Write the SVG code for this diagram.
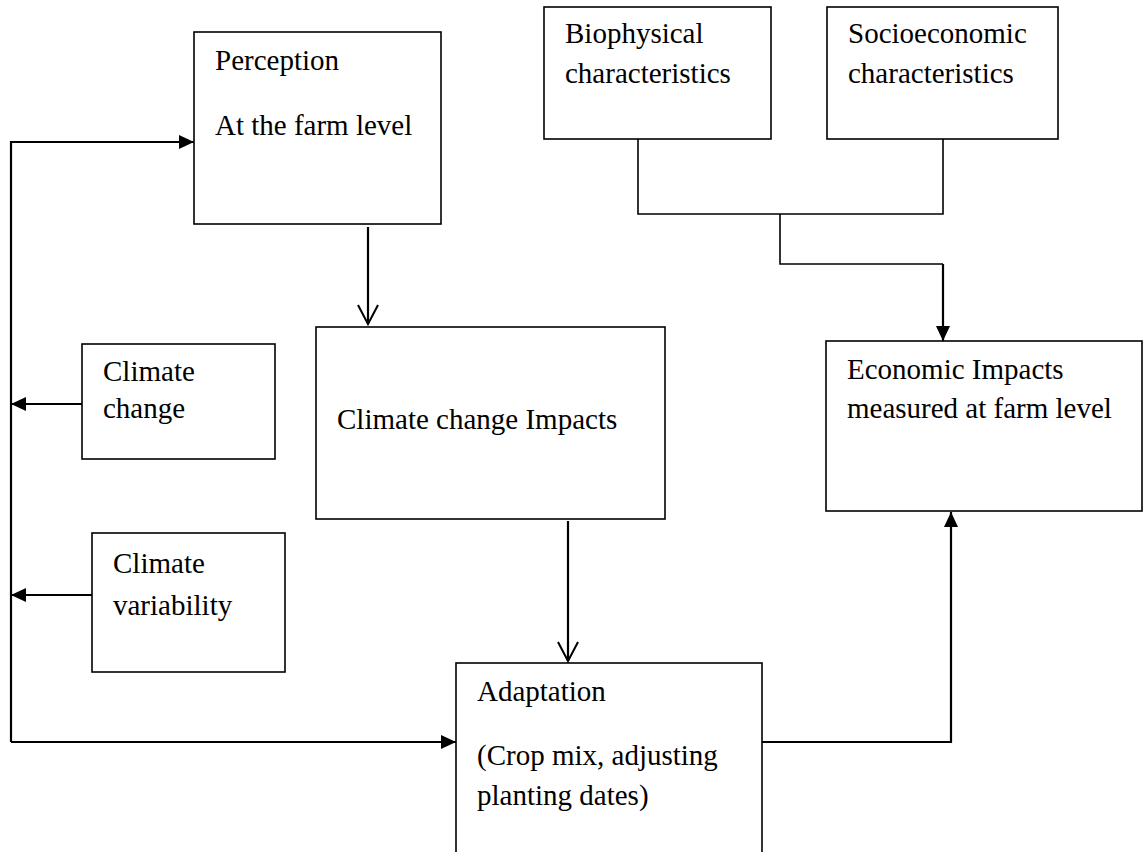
<svg xmlns="http://www.w3.org/2000/svg" width="1143" height="852" viewBox="0 0 1143 852">
<defs>
<style>
.box{fill:#fff;stroke:#000;stroke-width:1.6}
.t{font-family:"Liberation Serif","Times New Roman",serif;font-size:29px;fill:#000}
.c{fill:none;stroke:#000;stroke-width:2.2}
.thin{fill:none;stroke:#000;stroke-width:1.6}
</style>
<marker id="fa" markerUnits="userSpaceOnUse" markerWidth="16" markerHeight="14" refX="15" refY="7" orient="auto">
<path d="M0,0 L15,7 L0,14 Z" fill="#000"/>
</marker>
<marker id="va" markerUnits="userSpaceOnUse" markerWidth="24" markerHeight="24" refX="20" refY="12" orient="auto">
<path d="M1,2 L20,12 L1,22" fill="none" stroke="#000" stroke-width="2"/>
</marker>
</defs>
<rect width="1143" height="852" fill="#fff"/>
<g id="perception">
<rect class="box" x="194" y="32" width="247" height="192"/>
<text class="t" x="215" y="70">Perception</text>
<text class="t" x="215" y="135">At the farm level</text>
</g>
<g id="biophysical">
<rect class="box" x="544" y="7" width="227" height="132"/>
<text class="t" x="565" y="43">Biophysical</text>
<text class="t" x="565" y="83">characteristics</text>
</g>
<g id="socioeconomic">
<rect class="box" x="827" y="7" width="231" height="132"/>
<text class="t" x="848" y="43">Socioeconomic</text>
<text class="t" x="848" y="83">characteristics</text>
</g>
<g id="climate-change">
<rect class="box" x="82" y="344" width="193" height="115"/>
<text class="t" x="103" y="381">Climate</text>
<text class="t" x="103" y="418">change</text>
</g>
<g id="climate-variability">
<rect class="box" x="92" y="533" width="193" height="139"/>
<text class="t" x="113" y="573">Climate</text>
<text class="t" x="113" y="615">variability</text>
</g>
<g id="impacts">
<rect class="box" x="316" y="327" width="349" height="192"/>
<text class="t" x="337" y="429">Climate change Impacts</text>
</g>
<g id="economic">
<rect class="box" x="826" y="341" width="316" height="170"/>
<text class="t" x="847" y="379">Economic Impacts</text>
<text class="t" x="847" y="418">measured at farm level</text>
</g>
<g id="adaptation">
<rect class="box" x="456" y="663" width="306" height="220"/>
<text class="t" x="477" y="701">Adaptation</text>
<text class="t" x="477" y="765">(Crop mix, adjusting</text>
<text class="t" x="477" y="805">planting dates)</text>
</g>
<g id="connectors">
<path class="c" d="M11,742 L11,142 L194,142" marker-end="url(#fa)"/>
<path class="c" d="M11,742 L456,742" marker-end="url(#fa)"/>
<path class="c" d="M82,404 L11,404" marker-end="url(#fa)"/>
<path class="c" d="M92,595 L11,595" marker-end="url(#fa)"/>
<path class="c" d="M368,227 L368,324" marker-end="url(#va)"/>
<path class="c" d="M568,521 L568,661" marker-end="url(#va)"/>
<path class="thin" d="M638,139 L638,214 L943,214 L943,139"/>
<path class="thin" d="M780,214 L780,264 L943,264"/>
<path class="c" d="M943,264 L943,341" marker-end="url(#fa)"/>
<path class="c" d="M762,742 L951,742 L951,512" marker-end="url(#fa)"/>
</g>
</svg>
